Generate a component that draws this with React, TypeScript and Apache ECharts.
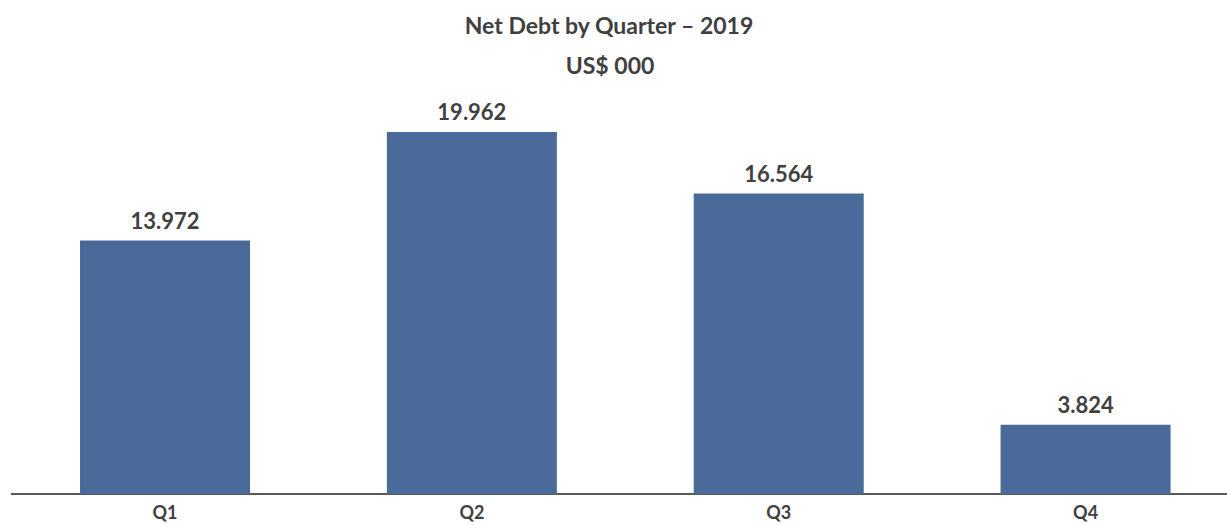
import React, { useEffect, useRef } from "react";
import * as echarts from "echarts";

const categories = ["Q1", "Q2", "Q3", "Q4"];
const values = [13.972, 19.962, 16.564, 3.824];
const titleText = "Net Debt by Quarter – 2019";
const subtitleText = "US$ 000";

const FONT = "Lato, 'Open Sans', sans-serif";
const TEXT = "#404040";

export default function App() {
  const ref = useRef<HTMLDivElement>(null);
  useEffect(() => {
    if (!ref.current) return;
    const chart = echarts.init(ref.current, undefined, { renderer: "svg" });
    chart.setOption({
      animation: false,
      backgroundColor: "#ffffff",
      title: [
        {
          text: titleText,
          left: 604,
          top: 8,
          textAlign: "center",
          textStyle: { fontFamily: FONT, fontWeight: "bold", fontSize: 23, color: TEXT },
        },
        {
          text: subtitleText,
          left: 605,
          top: 48,
          textAlign: "center",
          textStyle: { fontFamily: FONT, fontWeight: "bold", fontSize: 23, color: TEXT },
        },
      ],
      grid: { left: 11.6, right: 0, top: 95, bottom: 31, containLabel: false },
      xAxis: {
        type: "category",
        data: categories,
        axisLine: { show: true, lineStyle: { color: "#595959", width: 2 } },
        axisTick: { show: false },
        axisLabel: {
          margin: 9,
          fontFamily: FONT,
          fontWeight: "bold",
          fontSize: 18,
          lineHeight: 18,
          color: TEXT,
        },
      },
      yAxis: {
        type: "value",
        min: 0,
        max: 22,
        show: false,
        splitLine: { show: false },
      },
      series: [
        {
          type: "bar",
          data: values,
          barWidth: 170,
          itemStyle: { color: "#4A6A9A" },
          label: {
            show: true,
            position: "top",
            distance: 9,
            formatter: (p: any) => p.value.toFixed(3),
            fontFamily: FONT,
            fontWeight: "bold",
            fontSize: 22,
            color: TEXT,
          },
        },
      ],
    });
    return () => chart.dispose();
  }, []);
  return (
    <div
      style={{
        position: "fixed",
        left: 0,
        top: 0,
        width: 1227,
        height: 525,
        overflow: "hidden",
        background: "#ffffff",
      }}
    >
      <div ref={ref} style={{ width: 1239, height: 525 }} />
    </div>
  );
}
